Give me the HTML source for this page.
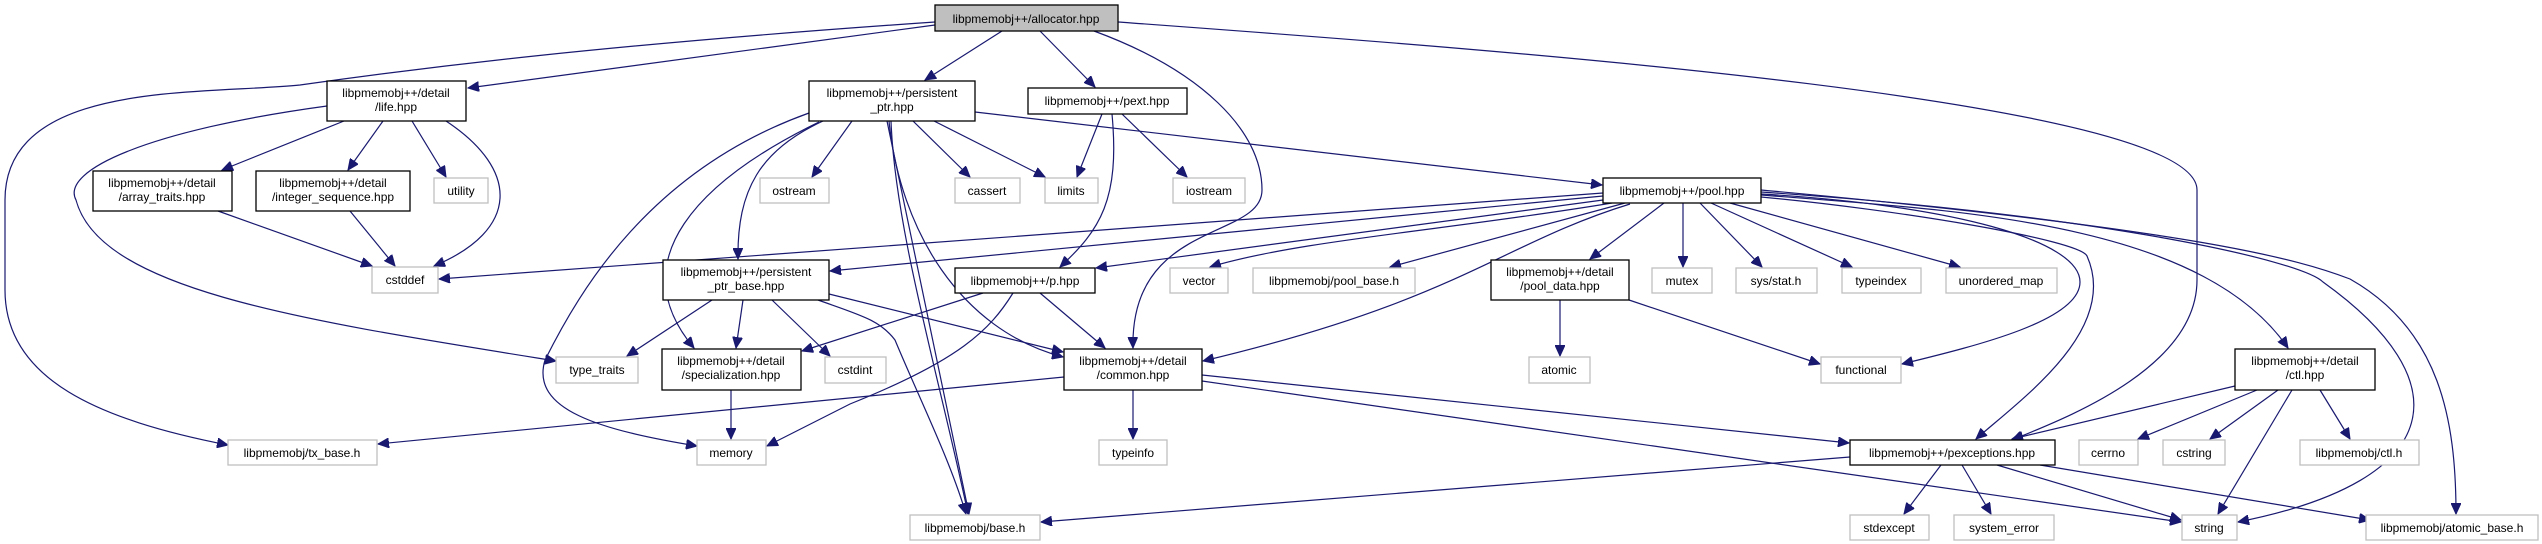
<!DOCTYPE html>
<html><head><meta charset="utf-8"><style>
html,body{margin:0;padding:0;background:#fff;}
svg{display:block;}
text{font-family:"Liberation Sans",Arial,sans-serif;font-size:12px;fill:#000;text-anchor:middle;}
.e{fill:none;stroke:#191970;stroke-width:1.2;marker-end:url(#a);}
.b{fill:#fff;stroke:#000;stroke-width:1.3;}
.g{fill:#fff;stroke:#bfbfbf;stroke-width:1.3;}
</style></head><body>
<svg width="2542" height="544" viewBox="0 0 2542 544" xmlns="http://www.w3.org/2000/svg">
<defs><marker id="a" markerUnits="userSpaceOnUse" markerWidth="12" markerHeight="10" refX="11" refY="5" orient="auto"><path d="M0,0 L11,5 L0,10 z" fill="#191970" stroke="#191970"/></marker></defs>

<!-- edges -->
<path class="e" d="M935,25 L468,88"/>
<path class="e" d="M935,22 C600,45 420,68 300,85 C200,95 5,80 5,200 L5,290 C5,380 100,420 228,445"/>
<path class="e" d="M1002,31 L925,80"/>
<path class="e" d="M1040,31 L1095,87"/>
<path class="e" d="M1094,31 C1200,70 1262,130 1262,190 C1262,240 1130,220 1133,348"/>
<path class="e" d="M1118,22 C1500,50 2197,100 2197,190 L2197,280 C2197,370 2060,420 2012,440"/>
<path class="e" d="M344,121 L222,170"/>
<path class="e" d="M383,121 L348,170"/>
<path class="e" d="M412,121 L446,177"/>
<path class="e" d="M446,121 C520,170 520,230 434,266"/>
<path class="e" d="M327,106 C150,130 60,170 76,200 C100,290 300,320 556,361"/>
<path class="e" d="M218,211 L372,266"/>
<path class="e" d="M350,211 L395,266"/>
<path class="e" d="M823,121 C760,150 737,190 738,259"/>
<path class="e" d="M809,113 C650,170 580,290 545,360 C530,410 600,430 697,446"/>
<path class="e" d="M819,122 C700,180 620,260 694,348"/>
<path class="e" d="M852,121 L812,177"/>
<path class="e" d="M913,121 L970,177"/>
<path class="e" d="M934,121 L1045,177"/>
<path class="e" d="M975,112 L1602,185"/>
<path class="e" d="M887,121 L969,514"/>
<path class="e" d="M891,121 C895,230 940,380 968,514"/>
<path class="e" d="M889,121 C900,230 960,330 1063,357"/>
<path class="e" d="M1102,114 L1077,177"/>
<path class="e" d="M1122,114 L1187,177"/>
<path class="e" d="M1112,114 C1120,200 1100,230 1060,267"/>
<path class="e" d="M1603,193 L439,279"/>
<path class="e" d="M1603,196 L830,271"/>
<path class="e" d="M1603,200 L1096,268"/>
<path class="e" d="M1612,203 C1450,230 1300,240 1210,267"/>
<path class="e" d="M1625,203 L1390,267"/>
<path class="e" d="M1630,204 C1500,244 1460,300 1203,361"/>
<path class="e" d="M1664,203 L1590,259"/>
<path class="e" d="M1683,203 L1683,267"/>
<path class="e" d="M1700,203 L1762,267"/>
<path class="e" d="M1711,203 L1852,267"/>
<path class="e" d="M1730,203 L1960,267"/>
<path class="e" d="M1761,194 C1950,205 2080,240 2080,282 C2080,320 1980,345 1902,364"/>
<path class="e" d="M1761,197 C1900,210 2080,240 2087,256 C2120,330 2020,400 1976,439"/>
<path class="e" d="M1761,195 C1950,210 2200,220 2288,348"/>
<path class="e" d="M1761,192 C2100,215 2300,260 2323,282 C2460,380 2450,480 2238,522"/>
<path class="e" d="M1761,190 C2200,230 2300,260 2350,279 C2440,330 2456,420 2456,514"/>
<path class="e" d="M1560,300 L1560,356"/>
<path class="e" d="M1629,300 L1820,364"/>
<path class="e" d="M983,293 L802,351"/>
<path class="e" d="M1013,293 C990,330 960,360 850,404 L767,446"/>
<path class="e" d="M1040,293 L1105,348"/>
<path class="e" d="M712,300 L627,356"/>
<path class="e" d="M743,300 L736,348"/>
<path class="e" d="M772,300 L830,356"/>
<path class="e" d="M829,294 L1063,352"/>
<path class="e" d="M818,300 C860,315 880,320 895,340 C920,400 950,460 966,514"/>
<path class="e" d="M731,390 L731,439"/>
<path class="e" d="M1064,377 L378,444"/>
<path class="e" d="M1133,390 L1133,439"/>
<path class="e" d="M1202,375 L1849,443"/>
<path class="e" d="M1202,381 L2181,522"/>
<path class="e" d="M1850,457 L1041,522"/>
<path class="e" d="M1941,465 L1904,514"/>
<path class="e" d="M1962,465 L1991,514"/>
<path class="e" d="M1997,465 L2181,520"/>
<path class="e" d="M2040,465 L2370,520"/>
<path class="e" d="M2235,386 L2012,439"/>
<path class="e" d="M2257,390 L2138,439"/>
<path class="e" d="M2278,390 L2210,439"/>
<path class="e" d="M2292,390 L2218,514"/>
<path class="e" d="M2320,390 L2350,439"/>

<!-- nodes -->
<rect x="935" y="5" width="183" height="26" fill="#bfbfbf" stroke="#000" stroke-width="1.3"/><text x="1026" y="23">libpmemobj++/allocator.hpp</text>
<rect class="b" x="327" y="81" width="139" height="40"/><text x="396" y="97">libpmemobj++/detail</text><text x="396" y="111">/life.hpp</text>
<rect class="b" x="809" y="81" width="166" height="40"/><text x="892" y="97">libpmemobj++/persistent</text><text x="892" y="111">_ptr.hpp</text>
<rect class="b" x="1028" y="88" width="159" height="26"/><text x="1107" y="105">libpmemobj++/pext.hpp</text>
<rect class="b" x="93" y="171" width="139" height="40"/><text x="162" y="187">libpmemobj++/detail</text><text x="162" y="201">/array_traits.hpp</text>
<rect class="b" x="256" y="171" width="154" height="40"/><text x="333" y="187">libpmemobj++/detail</text><text x="333" y="201">/integer_sequence.hpp</text>
<rect class="g" x="434" y="178" width="54" height="25"/><text x="461" y="195">utility</text>
<rect class="g" x="760" y="178" width="69" height="25"/><text x="794" y="195">ostream</text>
<rect class="g" x="955" y="178" width="65" height="25"/><text x="987" y="195">cassert</text>
<rect class="g" x="1045" y="178" width="53" height="25"/><text x="1071" y="195">limits</text>
<rect class="g" x="1173" y="178" width="72" height="25"/><text x="1209" y="195">iostream</text>
<rect class="b" x="1603" y="178" width="158" height="25"/><text x="1682" y="195">libpmemobj++/pool.hpp</text>
<rect class="g" x="372" y="267" width="66" height="26"/><text x="405" y="284">cstddef</text>
<rect class="b" x="663" y="260" width="166" height="40"/><text x="746" y="276">libpmemobj++/persistent</text><text x="746" y="290">_ptr_base.hpp</text>
<rect class="b" x="955" y="268" width="140" height="25"/><text x="1025" y="285">libpmemobj++/p.hpp</text>
<rect class="g" x="1170" y="268" width="58" height="25"/><text x="1199" y="285">vector</text>
<rect class="g" x="1253" y="268" width="162" height="25"/><text x="1334" y="285">libpmemobj/pool_base.h</text>
<rect class="b" x="1491" y="260" width="138" height="40"/><text x="1560" y="276">libpmemobj++/detail</text><text x="1560" y="290">/pool_data.hpp</text>
<rect class="g" x="1652" y="268" width="60" height="25"/><text x="1682" y="285">mutex</text>
<rect class="g" x="1736" y="268" width="81" height="25"/><text x="1776" y="285">sys/stat.h</text>
<rect class="g" x="1842" y="268" width="79" height="25"/><text x="1881" y="285">typeindex</text>
<rect class="g" x="1946" y="268" width="111" height="25"/><text x="2001" y="285">unordered_map</text>
<rect class="g" x="556" y="357" width="82" height="26"/><text x="597" y="374">type_traits</text>
<rect class="b" x="662" y="349" width="139" height="41"/><text x="731" y="365">libpmemobj++/detail</text><text x="731" y="379">/specialization.hpp</text>
<rect class="g" x="825" y="357" width="61" height="26"/><text x="855" y="374">cstdint</text>
<rect class="b" x="1064" y="349" width="138" height="41"/><text x="1133" y="365">libpmemobj++/detail</text><text x="1133" y="379">/common.hpp</text>
<rect class="g" x="1529" y="357" width="61" height="26"/><text x="1559" y="374">atomic</text>
<rect class="g" x="1821" y="357" width="80" height="26"/><text x="1861" y="374">functional</text>
<rect class="b" x="2235" y="349" width="140" height="41"/><text x="2305" y="365">libpmemobj++/detail</text><text x="2305" y="379">/ctl.hpp</text>
<rect class="g" x="228" y="440" width="149" height="25"/><text x="302" y="457">libpmemobj/tx_base.h</text>
<rect class="g" x="697" y="440" width="69" height="25"/><text x="731" y="457">memory</text>
<rect class="g" x="1099" y="440" width="68" height="25"/><text x="1133" y="457">typeinfo</text>
<rect class="b" x="1850" y="440" width="205" height="25"/><text x="1952" y="457">libpmemobj++/pexceptions.hpp</text>
<rect class="g" x="2079" y="440" width="59" height="25"/><text x="2108" y="457">cerrno</text>
<rect class="g" x="2163" y="440" width="62" height="25"/><text x="2194" y="457">cstring</text>
<rect class="g" x="2300" y="440" width="119" height="25"/><text x="2359" y="457">libpmemobj/ctl.h</text>
<rect class="g" x="910" y="515" width="130" height="25"/><text x="975" y="532">libpmemobj/base.h</text>
<rect class="g" x="1850" y="515" width="79" height="25"/><text x="1889" y="532">stdexcept</text>
<rect class="g" x="1954" y="515" width="100" height="25"/><text x="2004" y="532">system_error</text>
<rect class="g" x="2182" y="515" width="55" height="25"/><text x="2209" y="532">string</text>
<rect class="g" x="2366" y="515" width="172" height="25"/><text x="2452" y="532">libpmemobj/atomic_base.h</text>
</svg>
</body></html>
